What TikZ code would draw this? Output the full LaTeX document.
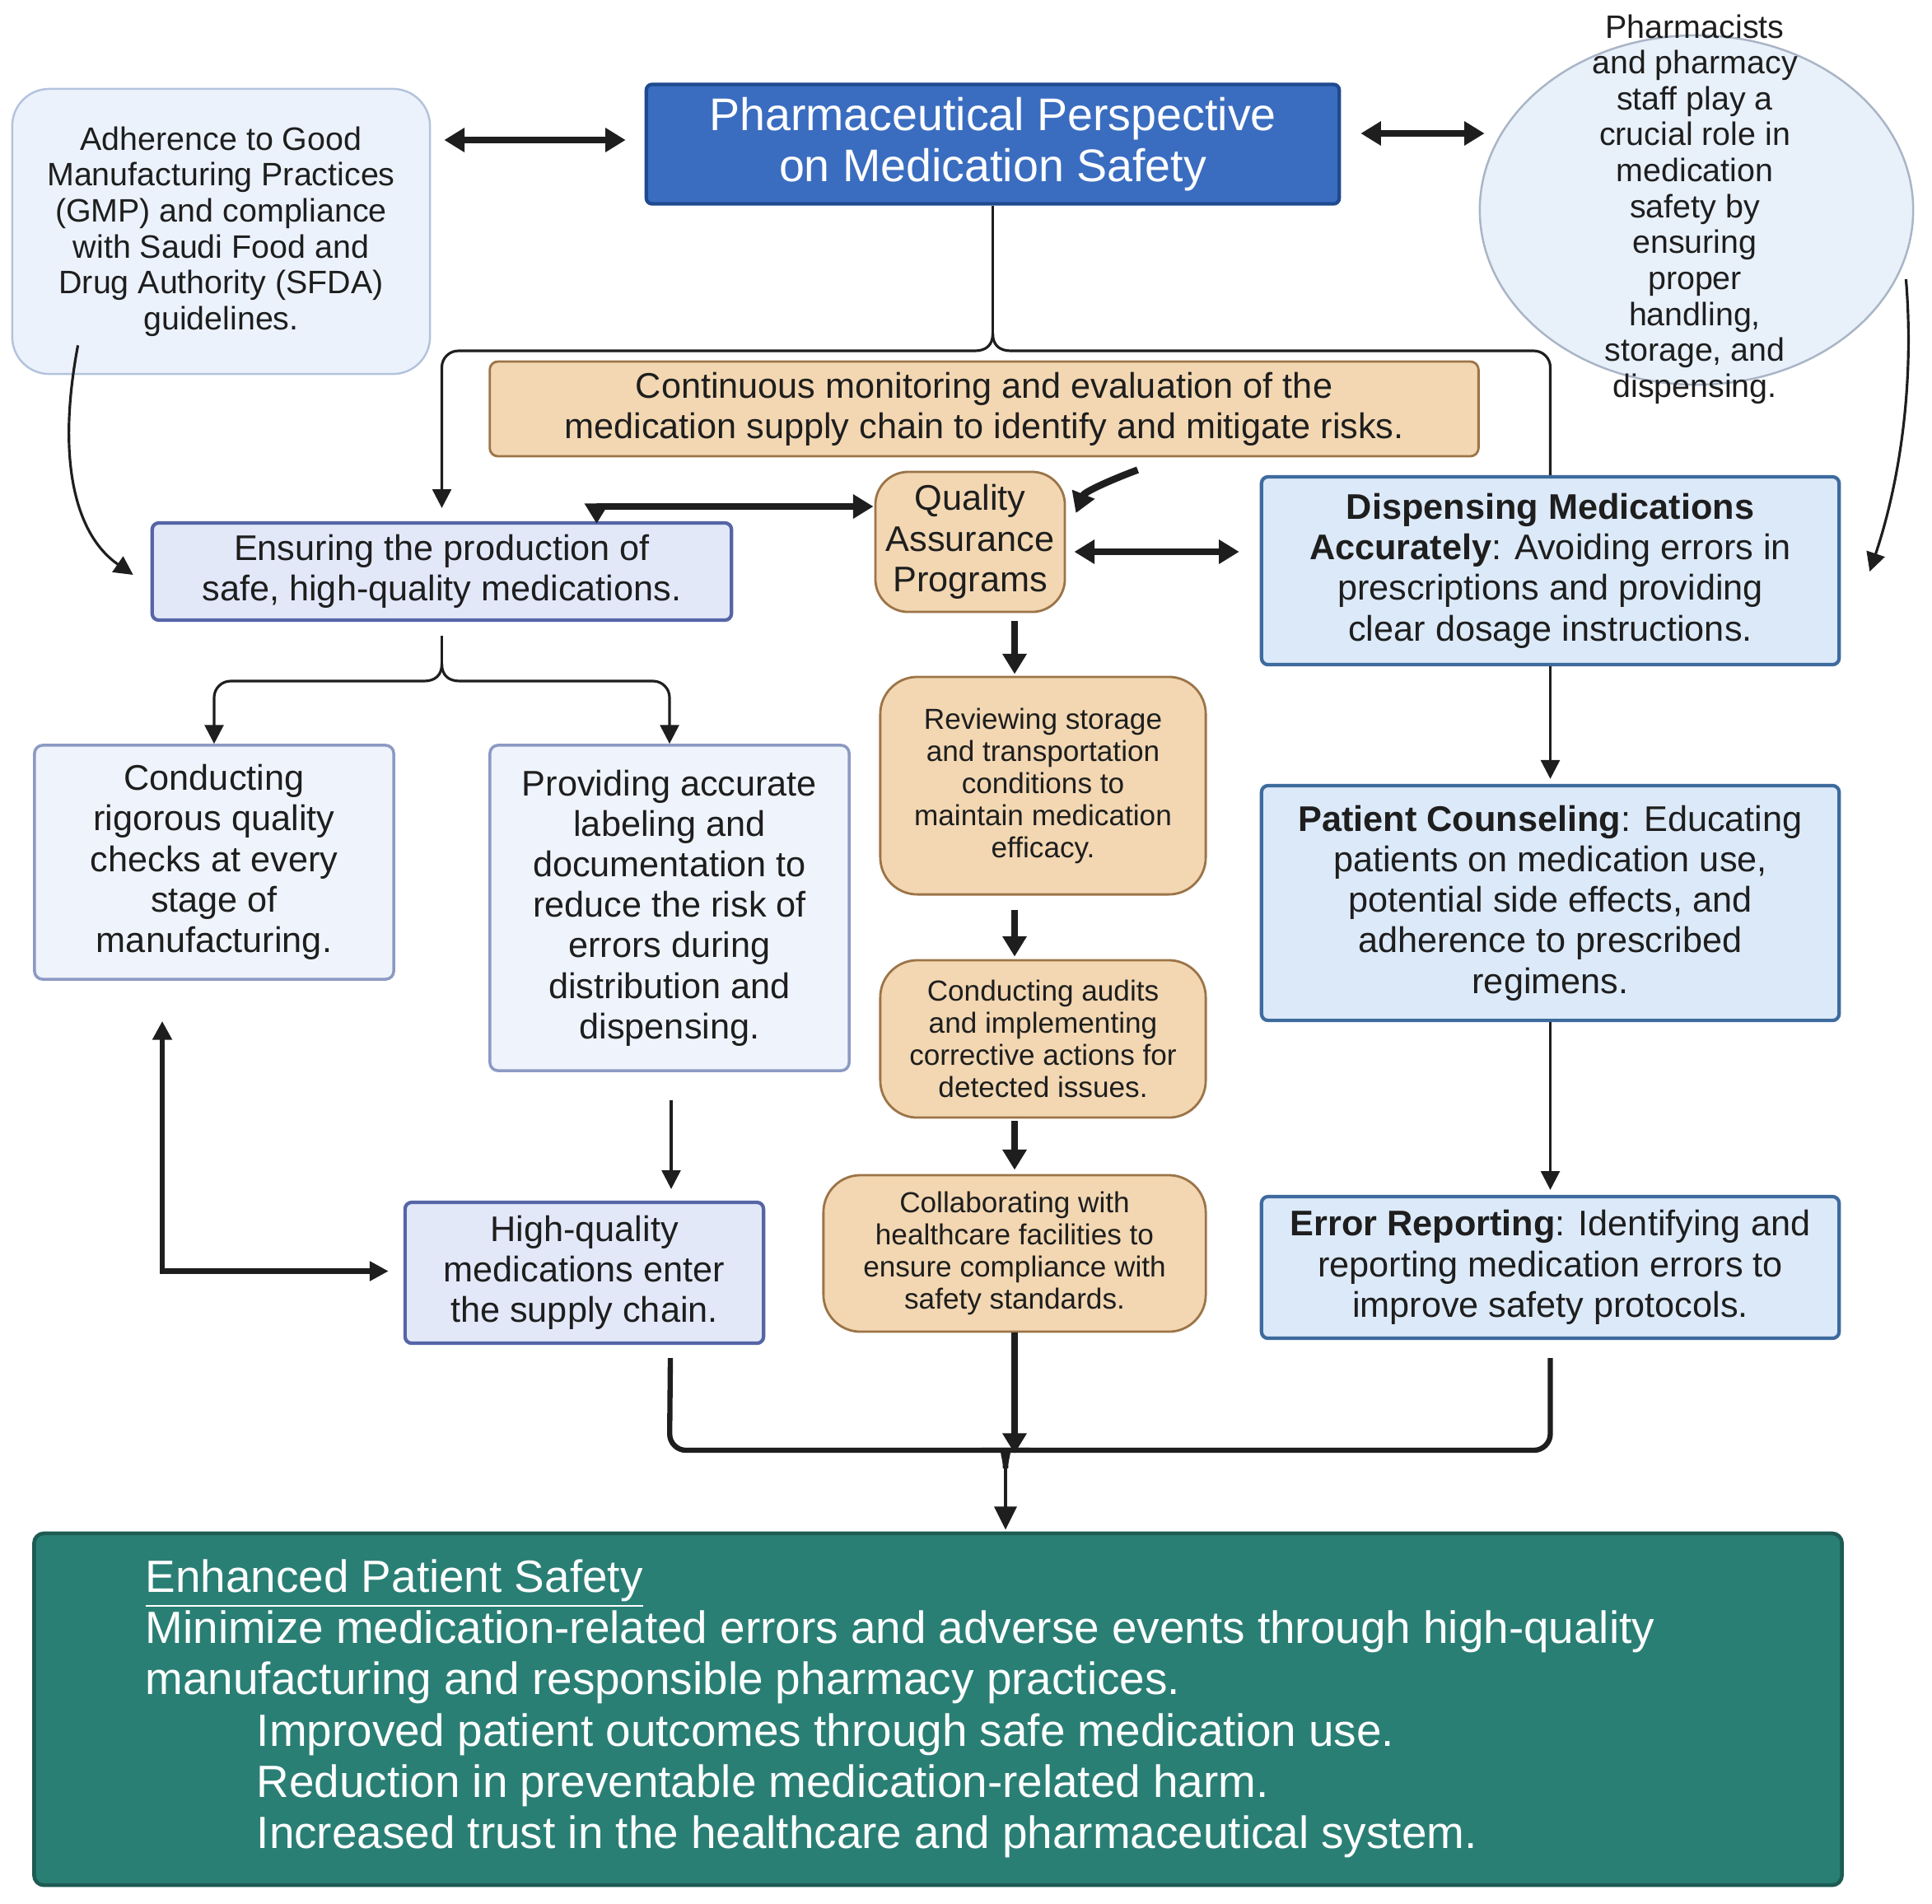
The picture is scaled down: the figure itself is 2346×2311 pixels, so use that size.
\documentclass[tikz,border=0pt]{standalone}
\usepackage{fontspec}
\setmainfont{Liberation Sans}
\usetikzlibrary{arrows.meta,calc,shapes.geometric}
\definecolor{titlefill}{HTML}{3A6DC0}
\definecolor{titledraw}{HTML}{1F4A8F}
\definecolor{gmpfill}{HTML}{EBF2FC}
\definecolor{gmpdraw}{HTML}{B3C3DC}
\definecolor{circfill}{HTML}{E8F0FA}
\definecolor{circdraw}{HTML}{A9B5C6}
\definecolor{tanfill}{HTML}{F2D7B2}
\definecolor{tandraw}{HTML}{9C7448}
\definecolor{lavfill}{HTML}{E3E8F9}
\definecolor{lavdraw}{HTML}{5565A6}
\definecolor{palefill}{HTML}{EFF3FB}
\definecolor{paledraw}{HTML}{8C9AC3}
\definecolor{skyfill}{HTML}{DCE9F8}
\definecolor{skydraw}{HTML}{3E6B9E}
\definecolor{tealfill}{HTML}{2A7F75}
\definecolor{tealdraw}{HTML}{1D5B53}
\definecolor{ink}{HTML}{1E1E1E}
\begin{document}
\begin{tikzpicture}[x=0.01cm,y=-0.01cm,
  every node/.style={inner sep=0pt,text=ink},
  fA/.style={font=\fontsize{15.8pt}{17.6pt}\selectfont},
  fG/.style={font=\fontsize{15.6pt}{17.7pt}\selectfont},
  fM/.style={font=\fontsize{12.3pt}{14pt}\selectfont},
  fS/.style={font=\fontsize{11.2pt}{12.4pt}\selectfont},
  fT/.style={font=\fontsize{10pt}{11.1pt}\selectfont},
  box/.style={draw,rectangle,align=center},
  titlebox/.style={box,fill=titlefill,draw=titledraw,line width=1.2pt,rounded corners=0.07cm,text=white,fA},
  gmpbox/.style={box,fill=gmpfill,draw=gmpdraw,line width=0.7pt,rounded corners=0.45cm,fS},
  tanbox/.style={box,fill=tanfill,draw=tandraw,line width=0.8pt},
  lavbox/.style={box,fill=lavfill,draw=lavdraw,line width=1.2pt,rounded corners=0.08cm,fM},
  palebox/.style={box,fill=palefill,draw=paledraw,line width=1pt,rounded corners=0.1cm,fM},
  skybox/.style={box,fill=skyfill,draw=skydraw,line width=1.2pt,rounded corners=0.08cm,fM},
  tealbox/.style={draw,rectangle,fill=tealfill,draw=tealdraw,line width=1.3pt,rounded corners=0.12cm},
  conn/.style={draw=ink,line width=0.9pt},
  thinarrow/.style={conn,-{Triangle[length=6.5pt,width=6.5pt]}},
  heavy/.style={draw=ink,line width=2.4pt},
  heavyarrow/.style={heavy,-{Triangle[length=7pt,width=8pt]}},
  heavyboth/.style={heavy,{Triangle[length=7pt,width=8pt]}-{Triangle[length=7pt,width=8pt]}},
  midboth/.style={draw=ink,line width=1.8pt,{Triangle[length=6.5pt,width=6.5pt]}-{Triangle[length=6.5pt,width=6.5pt]}},
  merge/.style={draw=ink,line width=1.8pt},
  finalarrow/.style={draw=ink,line width=1.4pt,-{Triangle[length=8pt,width=7.5pt]}}]
\useasboundingbox (0,0) rectangle (2346,2311);

% ---------- nodes ----------
\node[titlebox,minimum width=8.41cm,minimum height=1.45cm] (title) at (1205.5,175)
  {Pharmaceutical Perspective\\on Medication Safety};
\node[gmpbox,minimum width=5.07cm,minimum height=3.46cm] (gmp) at (268.5,281)
  {Adherence to Good\\Manufacturing Practices\\(GMP) and compliance\\with Saudi Food and\\Drug Authority (SFDA)\\guidelines.};
\node[ellipse,draw=circdraw,fill=circfill,line width=0.7pt,minimum width=5.26cm,minimum height=4.24cm] (circ) at (2060,255) {};
\node[fS,align=center] (circtxt) at (2058,254)
  {Pharmacists\\and pharmacy\\staff play a\\crucial role in\\medication\\safety by\\ensuring\\proper\\handling,\\storage, and\\dispensing.};
\node[tanbox,rounded corners=0.1cm,fM,minimum width=12cm,minimum height=1.15cm] (cont) at (1195,496.5)
  {Continuous monitoring and evaluation of the\\medication supply chain to identify and mitigate risks.};
\node[lavbox,minimum width=7.03cm,minimum height=1.18cm] (ens) at (536.5,694)
  {Ensuring the production of\\safe, high-quality medications.};
\node[tanbox,rounded corners=0.4cm,fM,minimum width=2.3cm,minimum height=1.7cm] (qa) at (1178,658)
  {Quality\\Assurance\\Programs};
\node[skybox,minimum width=7.01cm,minimum height=2.28cm] (disp) at (1882.5,693)
  {\textbf{Dispensing Medications}\\\textbf{Accurately}: Avoiding errors in\\prescriptions and providing\\clear dosage instructions.};
\node[skybox,minimum width=7.01cm,minimum height=2.85cm] (pc) at (1882.5,1096.5)
  {\textbf{Patient Counseling}: Educating\\patients on medication use,\\potential side effects, and\\adherence to prescribed\\regimens.};
\node[skybox,minimum width=7.01cm,minimum height=1.72cm] (er) at (1882.5,1539)
  {\textbf{Error Reporting}: Identifying and\\reporting medication errors to\\improve safety protocols.};
\node[palebox,minimum width=4.36cm,minimum height=2.84cm] (cond) at (260,1047)
  {Conducting\\rigorous quality\\checks at every\\stage of\\manufacturing.};
\node[palebox,minimum width=4.36cm,minimum height=3.95cm] (prov) at (813,1102.5)
  {Providing accurate\\labeling and\\documentation to\\reduce the risk of\\errors during\\distribution and\\dispensing.};
\node[lavbox,minimum width=4.35cm,minimum height=1.71cm] (hq) at (709.5,1545.5)
  {High-quality\\medications enter\\the supply chain.};
\node[tanbox,rounded corners=0.45cm,fT,minimum width=3.95cm,minimum height=2.64cm] (rev) at (1266.5,954)
  {Reviewing storage\\and transportation\\conditions to\\maintain medication\\efficacy.};
\node[tanbox,rounded corners=0.45cm,fT,minimum width=3.95cm,minimum height=1.91cm] (aud) at (1266.5,1261.5)
  {Conducting audits\\and implementing\\corrective actions for\\detected issues.};
\node[tanbox,rounded corners=0.45cm,fT,minimum width=4.64cm,minimum height=1.9cm] (col) at (1232,1522)
  {Collaborating with\\healthcare facilities to\\ensure compliance with\\safety standards.};
\node[tealbox,minimum width=21.94cm,minimum height=4.27cm] (green) at (1139,2075.5) {};
\node[fG,align=left,anchor=north west,text=white] (greentxt) at (176,1893)
  {\underline{Enhanced Patient Safety}\\
   Minimize medication-related errors and adverse events through high-quality\\
   manufacturing and responsible pharmacy practices.\\
   \hspace*{1.35cm}Improved patient outcomes through safe medication use.\\
   \hspace*{1.35cm}Reduction in preventable medication-related harm.\\
   \hspace*{1.35cm}Increased trust in the healthcare and pharmaceutical system.};

% ---------- helper coordinates ----------
\coordinate (r1) at (0,426);
\coordinate (j1) at (1205.5,405);
\coordinate (r2) at (0,827);
\coordinate (j2) at (536.5,806);
\coordinate (r3) at (0,1761);
\coordinate (j3) at (1221,1761);
\coordinate (c1) at (1232,0);

% ---------- connectors ----------
\draw[heavyboth] ($(gmp.east|-title.west)+(16,-5)$) -- ($(title.west)+(-23,-5)$);
\draw[heavyboth] ($(title.east)+(24,-13)$) -- ($(circ.west|-title.east)+(7,-13)$);

% top brace
\draw[conn] (title.south) -- (j1);
\draw[thinarrow] (j1) .. controls +(0,14) and +(14,0) .. ++(-22,21)
  [rounded corners=0.2cm] -- (ens.north |- r1) -- ($(ens.north)+(0,-16)$);
\draw[conn] (j1) .. controls +(0,14) and +(-14,0) .. ++(22,21)
  [rounded corners=0.2cm] -- (disp.north |- r1) -- (disp.north);

% curved arrows from gmp and circle
\draw[thinarrow] ($(gmp.south west)+(81,-36)$) .. controls (68,560) and (92,650) .. ($(ens.west)+(-21,4)$);
\draw[thinarrow] ($(circ.east)+(-10,84)$) .. controls (2326,480) and (2302,600) .. ($(disp.east)+(35,1)$);

% ensuring <-> QA
\draw[heavyboth] ($(ens.north)+(188,3)$) |- ($(qa.west)+(-1,-43)$);
\draw[heavyarrow] ($(qa.north east)+(87,-1)$) .. controls +(-40,15) and +(10,-25) .. ($(qa.east)+(12,-35)$);
\draw[heavyboth] ($(qa.east)+(10,12)$) -- ($(disp.west)+(-25,-23)$);

% QA chain
\draw[heavyarrow] ($(c1|-qa.south)+(0,10)$) -- ($(c1|-rev.north)+(0,-2)$);
\draw[heavyarrow] ($(c1|-rev.south)+(0,17)$) -- ($(c1|-aud.north)+(0,-3)$);
\draw[heavyarrow] ($(c1|-aud.south)+(0,3)$) -- ($(col.north)+(0,-5)$);

% ensuring split
\draw[conn] ($(ens.south)+(0,17)$) -- (j2);
\draw[thinarrow] (j2) .. controls +(0,14) and +(14,0) .. ++(-22,21)
  [rounded corners=0.2cm] -- (cond.north |- r2) -- (cond.north);
\draw[thinarrow] (j2) .. controls +(0,14) and +(-14,0) .. ++(22,21)
  [rounded corners=0.2cm] -- (prov.north |- r2) -- (prov.north);

% providing -> high quality
\draw[thinarrow] ($(prov.south)+(2,34)$) -- ($(prov.south |- hq.north)+(2,-14)$);
% elbow
\draw[midboth] ($(hq.west)+(-18,-2)$) -| ($(cond.south)+(-63,49)$);

% right column
\draw[thinarrow] (disp.south) -- ($(pc.north)+(0,-6)$);
\draw[thinarrow] (pc.south) -- ($(er.north)+(0,-6)$);

% bottom merge
\draw[merge] ($(prov.south |- hq.south)+(1,16)$) [rounded corners=0.2cm] -- (prov.south |- r3) -- ($(j3)+(-20,0)$)
  [sharp corners] .. controls +(14,0) and +(0,-14) .. ($(j3)+(0,22)$);
\draw[merge] ($(er.south)+(0,22)$) [rounded corners=0.2cm] -- (er.south |- r3) -- ($(j3)+(20,0)$)
  [sharp corners] .. controls +(-14,0) and +(0,-14) .. ($(j3)+(0,22)$);
\draw[heavyarrow] (col.south) -- ($(c1|-r3)+(0,4)$);
\draw[finalarrow] ($(j3)+(0,22)$) -- ($(j3 |- green.north)+(0,-2)$);
\end{tikzpicture}
\end{document}
